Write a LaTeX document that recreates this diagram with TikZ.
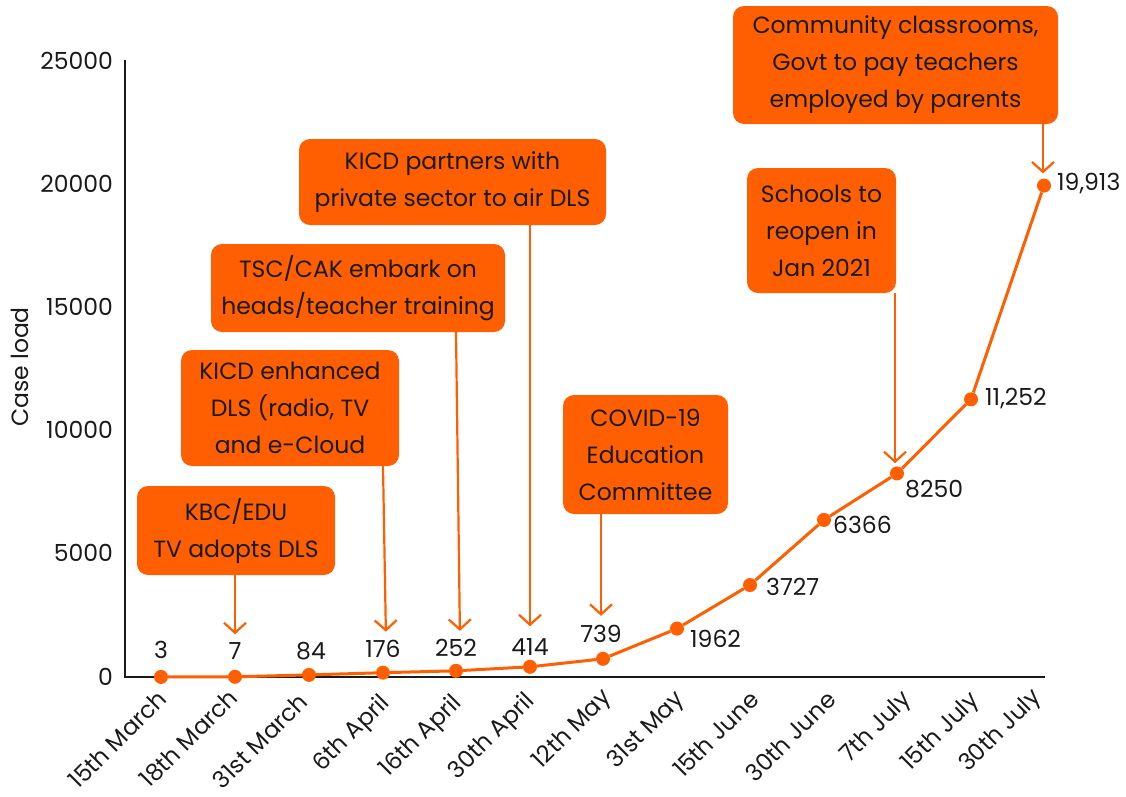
\documentclass[tikz,border=0pt]{standalone}
\usepackage{fontspec}
\setmainfont{Poppins}
\usepackage{xcolor}
\definecolor{caseorange}{HTML}{FF5F00}
\definecolor{inkblack}{HTML}{1A1A1A}
\usepackage{tikz}
\usetikzlibrary{positioning,arrows.meta}

\begin{document}
\begin{tikzpicture}[x=1pt, y=-1pt, font=\fontsize{23.5}{37}\selectfont, text=inkblack,
		callout/.style={
					rectangle, rounded corners = 11pt, fill = caseorange,
					align = center, inner sep = 0pt},
		pin/.style={draw = caseorange, line width = 2.2pt,
					-{Straight Barb[length=10pt, width=22pt, line width=2.2pt]}},
		dot/.style={circle, fill = caseorange, inner sep = 0pt, minimum size = 14pt},
		val/.style={inner sep = 0pt},
		date/.style={rotate = 45, anchor = north east, inner sep = 0pt},
		tick/.style={anchor = east, inner sep = 0pt}]
		\useasboundingbox (0,0) rectangle (1126,796);
		% axes
		\coordinate (O) at (125,677);
		\coordinate (Ytop) at (125,60);
		\coordinate (Xend) at (1045,677);
		\draw[inkblack, line width = 1.4pt] (Ytop) -- (O) -- (Xend);
		\node (Y0) [tick] at (113,677) {0};
		\node (Y1) [tick] at (113,553) {5000};
		\node (Y2) [tick] at (113,430) {10000};
		\node (Y3) [tick] at (113,307) {15000};
		\node (Y4) [tick] at (113,184) {20000};
		\node (Y5) [tick] at (113,61) {25000};
		\node (YL) [rotate = 90] at (20,367) {Case load};
		% case load points
		\node (p1) [dot] at (161,676.9) {};
		\node (p2) [dot] at (235,676.8) {};
		\node (p3) [dot] at (309,674.9) {};
		\node (p4) [dot] at (383,672.7) {};
		\node (p5) [dot] at (456,670.8) {};
		\node (p6) [dot] at (530,666.8) {};
		\node (p7) [dot] at (603,658.8) {};
		\node (p8) [dot] at (677,628.6) {};
		\node (p9) [dot] at (750,585.0) {};
		\node (p10) [dot] at (824,519.9) {};
		\node (p11) [dot] at (897,473.4) {};
		\node (p12) [dot] at (971,399.3) {};
		\node (p13) [dot] at (1044,185.6) {};
		\draw[caseorange, line width = 3pt] (p1) -- (p2) -- (p3) -- (p4) -- (p5) -- (p6) -- (p7)
			-- (p8) -- (p9) -- (p10) -- (p11) -- (p12) -- (p13);
		% values
		\node (v1) [val, above=11pt of p1] {3};
		\node (v2) [val, above=10pt of p2] {7};
		\node (v3) [val, above=8pt of p3, xshift=2pt] {84};
		\node (v4) [val, above=8pt of p4] {176};
		\node (v5) [val, above=7pt of p5] {252};
		\node (v6) [val, above=4pt of p6] {414};
		\node (v7) [val, above=9pt of p7, xshift=-2pt] {739};
		\node (v8) [val, anchor=west] at ([xshift=13pt, yshift=-10pt]p8) {1962};
		\node (v9) [val, anchor=west] at ([xshift=16pt, yshift=-2pt]p9) {3727};
		\node (v10) [val, anchor=west] at ([xshift=9pt, yshift=-5pt]p10) {6366};
		\node (v11) [val, anchor=west] at ([xshift=8pt, yshift=-16pt]p11) {8250};
		\node (v12) [val, anchor=west] at ([xshift=14pt, yshift=1pt]p12) {11,252};
		\node (v13) [val, anchor=west] at ([xshift=13pt, yshift=2pt]p13) {19,913};
		% dates
		\node (d1) [date] at (156,688) {15th March};
		\node (d2) [date] at (227,687) {18th March};
		\node (d3) [date] at (297,691) {31st March};
		\node (d4) [date] at (378,691) {6th April};
		\node (d5) [date] at (450,691) {16th April};
		\node (d6) [date] at (523,689) {30th April};
		\node (d7) [date] at (600,686) {12th May};
		\node (d8) [date] at (673,688) {31st May};
		\node (d9) [date] at (748,689) {15th June};
		\node (d10) [date] at (825,689) {30th June};
		\node (d11) [date] at (900,688) {7th July};
		\node (d12) [date] at (968,689) {15th July};
		\node (d13) [date] at (1030,686) {30th July};
		% milestones
		\node (kbc) [callout, minimum width = 198pt, minimum height = 89pt] at (236,530.5)
			{KBC/EDU\\TV adopts DLS};
		\node (dls) [callout, minimum width = 218pt, minimum height = 116pt] at (290,408)
			{KICD enhanced\\DLS (radio, TV\\and e-Cloud};
		\node (tsc) [callout, minimum width = 294pt, minimum height = 88pt] at (358,288)
			{TSC/CAK embark on\\heads/teacher training};
		\node (air) [callout, minimum width = 307pt, minimum height = 86pt] at (452.5,182)
			{KICD partners with\\private sector to air DLS};
		\node (covid) [callout, minimum width = 165pt, minimum height = 119pt] at (645.5,454.5)
			{COVID-19\\Education\\Committee};
		\node (reopen) [callout, minimum width = 149pt, minimum height = 125pt] at (821.5,230.5)
			{Schools to\\reopen in\\Jan 2021};
		\node (comm) [callout, minimum width = 325pt, minimum height = 118pt] at (895.5,65)
			{Community classrooms,\\Govt to pay teachers\\employed by parents};
		\draw[pin, shorten >= 8pt] (kbc.south -| v2.north) -- (v2.north);
		\draw[pin, shorten >= 8pt] (dls.south -| v4.north) -- ([xshift=3pt]v4.north);
		\draw[pin, shorten >= 8pt] (tsc.south -| v5.north) -- ([xshift=4pt]v5.north);
		\draw[pin, shorten >= 12pt] (air.south -| v6.north) -- (v6.north);
		\draw[pin, shorten >= 9pt] (covid.south -| v7.north) -- (v7.north);
		\draw[pin, shorten >= 3pt] ([xshift=-2pt]reopen.south -| p11.north) -- ([xshift=-2pt]p11.north);
		\draw[pin, shorten >= 5pt] ([xshift=-1pt]comm.south -| p13.north) -- ([xshift=-1pt]p13.north);
	\end{tikzpicture}
\end{document}
